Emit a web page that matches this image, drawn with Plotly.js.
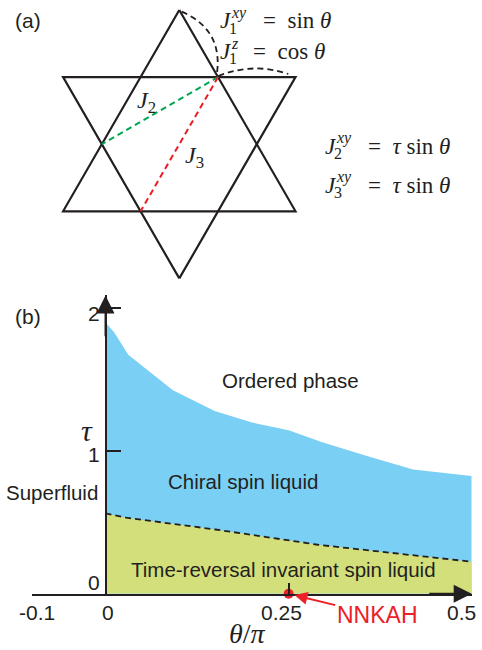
<!DOCTYPE html>
<html>
<head>
<meta charset="utf-8">
<script src="https://cdn.plot.ly/plotly-3.0.1.min.js"></script>
<style>html,body{margin:0;padding:0;background:#fff;}#chart{width:482px;height:650px;}</style>
</head>
<body>
<div id="chart"></div>
<script>
// ---------------- DATA ----------------
// Panel (b): phase boundaries, theta/pi vs tau
var thetaUpper = [0, 0.012, 0.031, 0.092, 0.149, 0.200, 0.250, 0.297, 0.357, 0.420, 0.500];
var tauUpper   = [1.90, 1.83, 1.675, 1.425, 1.280, 1.200, 1.145, 1.060, 0.965, 0.870, 0.825];
var thetaDash  = [0, 0.028, 0.150, 0.250, 0.275, 0.290, 0.420, 0.500];
var tauDash    = [0.563, 0.533, 0.450, 0.378, 0.355, 0.343, 0.268, 0.224];
var nnkahTheta = [0.25];
var nnkahTau   = [0];
var xTickVals  = [-0.1, 0, 0.25, 0.5];
var xTickText  = ['-0.1', '0', '0.25', '0.5'];
var yTickVals  = [0, 1, 2];
var yTickText  = ['0', '1', '2'];
var phaseLabels = ['Ordered phase', 'Chiral spin liquid', 'Time-reversal invariant spin liquid', 'Superfluid'];
// Panel (a): star (kagome) geometry — vertex angles (deg), unit circumradius
var upTriAngles   = [90, 210, 330, 90];
var downTriAngles = [270, 30, 150, 270];
var hexRadius = 1 / Math.sqrt(3);
var j2Bond = [60, 180];   // site angles on the inner hexagon
var j3Bond = [60, 240];

// ---------------- LAYOUT HELPERS ----------------
var W = 482, H = 650;
function px(x) { return x / W; }
function py(y) { return 1 - y / H; }
var ink = '#231f20';
var sans = 'Liberation Sans, Arial, sans-serif';
var serif = 'Liberation Serif, Times New Roman, serif';

// panel (b) pixel frame
var bx0 = 32.3, bx1 = 471.7;       // x = -0.1 .. 0.5
var by0 = 593.7, pxPerTau = 142.7; // y=0 pixel, scale
var yTop = 2.09;

// panel (a) frame
var cx = 179.3, cy = 144.2, R = 134.2, aBottom = 290;

function pts(angles, r) {
  return {
    x: angles.map(function (a) { return r * Math.cos(a * Math.PI / 180); }),
    y: angles.map(function (a) { return r * Math.sin(a * Math.PI / 180); })
  };
}

var up = pts(upTriAngles, 1), down = pts(downTriAngles, 1);
var b2 = pts(j2Bond, hexRadius), b3 = pts(j3Bond, hexRadius);

var traces = [
  { x: thetaUpper, y: tauUpper, type: 'scatter', mode: 'lines', fill: 'tozeroy',
    fillcolor: '#7acff4', line: { width: 0, color: '#7acff4' }, hoverinfo: 'skip', xaxis: 'x', yaxis: 'y' },
  { x: thetaDash, y: tauDash, type: 'scatter', mode: 'lines', fill: 'tozeroy',
    fillcolor: '#d3df7b', line: { width: 1.8, color: ink, dash: '6px,4px' }, hoverinfo: 'skip', xaxis: 'x', yaxis: 'y' },
  { x: nnkahTheta, y: nnkahTau, type: 'scatter', mode: 'markers', cliponaxis: false,
    marker: { size: 10, color: '#ec2027' }, hoverinfo: 'skip', xaxis: 'x', yaxis: 'y' },
  { x: up.x, y: up.y, type: 'scatter', mode: 'lines', line: { color: ink, width: 2.2 }, xaxis: 'x2', yaxis: 'y2', hoverinfo: 'skip' },
  { x: down.x, y: down.y, type: 'scatter', mode: 'lines', line: { color: ink, width: 2.2 }, xaxis: 'x2', yaxis: 'y2', hoverinfo: 'skip' },
  { x: b2.x, y: b2.y, type: 'scatter', mode: 'lines', line: { color: '#00a651', width: 2, dash: '6px,4px' }, xaxis: 'x2', yaxis: 'y2', hoverinfo: 'skip' },
  { x: b3.x, y: b3.y, type: 'scatter', mode: 'lines', line: { color: '#ed1c24', width: 2, dash: '6px,4px' }, xaxis: 'x2', yaxis: 'y2', hoverinfo: 'skip' }
];

// unit conversion for panel (a) shapes
function ux(p) { return (p - cx) / R; }
function uy(p) { return (cy - p) / R; }
function P(a, b) { return ux(a).toFixed(4) + ',' + uy(b).toFixed(4); }

var shapes = [
  { type: 'path', xref: 'x2', yref: 'y2', path: 'M' + P(181.7, 11.7) + ' Q' + P(223.7, 29.8) + ' ' + P(216.7, 75),
    line: { color: ink, width: 1.8, dash: '6px,4px' } },
  { type: 'path', xref: 'x2', yref: 'y2', path: 'M' + P(218.3, 76) + ' Q' + P(253.3, 62) + ' ' + P(288.3, 74),
    line: { color: ink, width: 1.8, dash: '6px,4px' } },
  // small stub below the origin
  { type: 'line', xref: 'x', yref: 'y', x0: 0, x1: 0, y0: 0, y1: -0.025, line: { color: ink, width: 2 } }
];

var ctx = document.createElement('canvas').getContext('2d');
function tw(txt, size, style) { ctx.font = (style || '') + ' ' + size + 'px "Liberation Serif"'; return ctx.measureText(txt).width; }

var ann = [];
function txt(t, x, y, size, family, color, anchor) {
  ann.push({ text: t, x: px(x), y: py(y), xref: 'paper', yref: 'paper', showarrow: false,
    xanchor: anchor || 'center', yanchor: 'middle', font: { family: family, size: size, color: color || ink } });
}
var ES = 23;
function eq(xJ, yc, sub, sup, restX, rest) {
  txt('<i>J</i>', xJ, yc, ES, serif, ink, 'left');
  var xs = xJ + tw('J', ES, 'italic') + 0.5;
  txt(sup, xs, yc - 7.5, 16, serif, ink, 'left');
  txt(sub, xs - 1.5, yc + 7.5, 16, serif, ink, 'left');
  txt(rest, restX, yc, ES, serif, ink, 'left');
}
eq(218, 21, '1', '<i>xy</i>', 261, '=&nbsp;&nbsp;sin&nbsp;<i>θ</i>');
eq(218, 51, '1', '<i>z</i>', 251, '=&nbsp;&nbsp;cos&nbsp;<i>θ</i>');
eq(323, 146, '2', '<i>xy</i>', 366, '=&nbsp;&nbsp;<i>τ</i>&nbsp;sin&nbsp;<i>θ</i>');
eq(323, 185, '3', '<i>xy</i>', 366, '=&nbsp;&nbsp;<i>τ</i>&nbsp;sin&nbsp;<i>θ</i>');
txt('<i>J</i><sub>2</sub>', 135, 102, 24, serif, ink, 'left');
txt('<i>J</i><sub>3</sub>', 183, 157, 24, serif, ink, 'left');

txt('(a)', 28.3, 20.7, 21, sans);
txt('(b)', 28.3, 316.7, 21, sans);

// phase labels
txt(phaseLabels[0], 290.8, 380.7, 20.5, sans);
txt(phaseLabels[1], 242.5, 481.7, 20.5, sans);
txt(phaseLabels[2], 283.3, 569.3, 20.5, sans);
txt(phaseLabels[3], 52.2, 492.3, 20.5, sans);

// axis titles
txt('<i>θ</i>/<i>π</i>', 247.5, 633, 28, serif);
txt('<i>τ</i>', 86.5, 430, 30, serif);

// tick labels (from tick arrays, placed via the axes' scales)
var xShift = [4.4, 2.3, -7.4, -10.7];
xTickVals.forEach(function (v, i) {
  ann.push({ text: xTickText[i], x: v, y: 0, xref: 'x', yref: 'y', showarrow: false, xanchor: 'center', yanchor: 'middle',
    xshift: xShift[i], yshift: -19, font: { family: sans, size: 21, color: ink } });
});
var yShift = [11.2, -4, -5.7];
yTickVals.forEach(function (v, i) {
  ann.push({ text: yTickText[i], x: 0, y: v, xref: 'x', yref: 'y', showarrow: false, xanchor: 'right', yanchor: 'middle',
    xshift: -4, yshift: yShift[i], font: { family: sans, size: 21, color: ink } });
});

// axis arrowheads
ann.push({ text: ' ', x: 0.5, y: 0, xref: 'x', yref: 'y', ax: 0.44, ay: 0, axref: 'x', ayref: 'y', showarrow: true,
  arrowhead: 2, arrowsize: 1.8, arrowwidth: 2, arrowcolor: ink, font: { size: 1 } });
ann.push({ text: ' ', x: 0, y: yTop, xref: 'x', yref: 'y', ax: 0, ay: yTop - 0.3, axref: 'x', ayref: 'y', showarrow: true,
  arrowhead: 2, arrowsize: 1.8, arrowwidth: 2, arrowcolor: ink, font: { size: 1 } });

// NNKAH pointer
ann.push({ text: 'NNKAH', x: nnkahTheta[0], y: nnkahTau[0], xref: 'x', yref: 'y', showarrow: true,
  ax: 88.6, ay: 21.7, arrowhead: 2, arrowsize: 1.3, arrowwidth: 2, arrowcolor: '#ec2027', standoff: 6,
  font: { family: sans, size: 23, color: '#ec2027' } });

var layout = {
  width: W, height: H, margin: { l: 0, r: 0, t: 0, b: 0 },
  paper_bgcolor: '#fff', plot_bgcolor: 'rgba(0,0,0,0)', showlegend: false,
  xaxis: { domain: [px(bx0), px(bx1)], range: [-0.1, 0.5], anchor: 'y', showline: true, linewidth: 2, linecolor: ink,
    ticks: 'inside', tickvals: [-0.1, 0.25, 0.5], ticklen: 11, tickwidth: 2, tickcolor: ink, showticklabels: false,
    showgrid: false, zeroline: false, fixedrange: true },
  yaxis: { domain: [py(by0), py(by0 - yTop * pxPerTau)], range: [0, yTop], anchor: 'free', position: px(bx0 + 0.1 * (bx1 - bx0) / 0.6),
    showline: true, linewidth: 2, linecolor: ink, ticks: 'inside', tickvals: [1, 2], ticklen: 14, tickwidth: 2, tickcolor: ink,
    showticklabels: false, showgrid: false, zeroline: false, fixedrange: true },
  xaxis2: { domain: [0, 1], range: [-cx / R, (W - cx) / R], anchor: 'y2', visible: false, fixedrange: true },
  yaxis2: { domain: [py(aBottom), 1], range: [-(aBottom - cy) / R, cy / R], anchor: 'x2', visible: false, fixedrange: true },
  shapes: shapes,
  annotations: ann
};

Plotly.newPlot('chart', traces, layout, { displayModeBar: false, staticPlot: true });
</script>
</body>
</html>
